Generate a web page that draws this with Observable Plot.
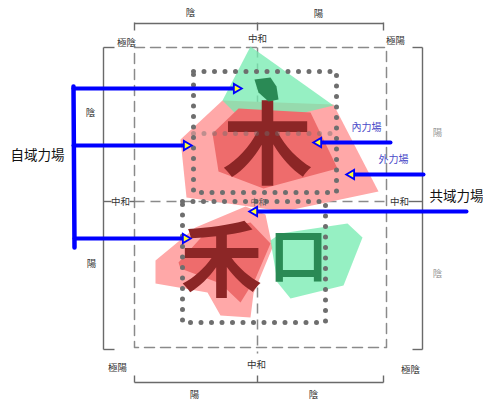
<!DOCTYPE html>
<html><head><meta charset="utf-8">
<script src="https://cdn.jsdelivr.net/npm/d3@7"></script>
<script src="https://cdn.jsdelivr.net/npm/@observablehq/plot@0.6"></script>
<style>body{margin:0;background:#fff}</style>
</head><body><div id="chart"></div>
<script>
// ---- diagram data (diagram units: x 0..483 left→right, y 0..401 top→bottom) ----
// solid bracket segments [x1,y1,x2,y2]
const bracketSegments = [
  [134,23,383,23],[134,22,134,30],[257,22,257,30],[383,22,383,30],
  [134,382,383,382],[134,375,134,382],[257,375,257,382],[383,375,383,382],
  [103,47,103,349],[103,47,114,47],[103,349,114,349],
  [422,47,422,349],[412,47,422,47],[412,349,422,349],
  [103,201,111,201],[129,201,134,201],[408,201,422,201]
];
// dashed guide box and centre lines
const dashedBox = [[134,47],[386,47],[386,347],[134,347]];
const dashedSegments = [[257,47,257,353],[134,201,386,201]];
// dotted field boxes
const dottedTop = [[193,71],[336,71],[336,192],[193,192]];
const dottedBottom = [[182,201],[325,201],[325,322],[182,322]];
const dottedInner = [[193,133,336,133]];
// force-field polygons
const topPinkOuter = [[180,139],[222,100],[333,104],[378,191],[283,211],[186,197]];
const topGreen = [[250,46],[333,105],[300,113],[235,113],[222,100]];
const topRedInner = [[212,133],[238,108],[310,112],[337,168],[263,188],[218,171]];
const topGreenStroke = [[254,79],[270,77],[276,86],[278,99],[268,101],[258,92]];
const bottomPinkOuter = [[155,283],[155,260],[195,227],[245,206],[265,214],[272,247],[253,293],[250,317],[220,315],[207,292]];
const bottomGreen = [[270,240],[280,233],[347,223],[362,237],[343,285],[290,298],[277,282]];
const bottomRedInner = [[178,262],[207,230],[250,222],[270,243],[255,278],[240,302],[220,283],[180,268]];
// characters
const glyphsRed = [{t:"木",x:267,y:148,s:90},{t:"禾",x:221,y:263,s:82}];
const glyphsGreen = [{t:"口",x:298,y:258,s:58}];
// labels
const axisLabels = [
  {t:"陰",x:190,y:12},{t:"陽",x:318,y:13},
  {t:"中和",x:257,y:38},{t:"極陰",x:126,y:42},{t:"極陽",x:395,y:40},
  {t:"陰",x:90,y:112},{t:"陽",x:91,y:263},
  {t:"中和",x:120,y:201},{t:"中和",x:399,y:201},
  {t:"中和",x:256,y:364},{t:"極陽",x:117,y:367},{t:"極陰",x:410,y:369},
  {t:"陽",x:194,y:394},{t:"陰",x:313,y:394}
];
const centreLabel = [{t:"中和",x:258,y:202}];
const rightLabels = [{t:"陽",x:437,y:132},{t:"陰",x:437,y:273}];
const bigLabels = [{t:"自域力場",x:37,y:155},{t:"共域力場",x:456,y:196}];
const fieldLabels = [{t:"內力場",x:366,y:127},{t:"外力場",x:393,y:159}];
// blue pointers
const bracketBlue = [[73,86,74,247]];
const pointers = [
  [73,88,241,88],[73,145,191,145],[74,238,190,238],
  [390,142,313,142],[423,174,346,174],[466,211,249,211]
];

// ---- drawing ----
const font = "'Noto Sans CJK TC', 'Noto Sans CJK SC', sans-serif";
const seg = a => ({x1:a[0],y1:a[1],x2:a[2],y2:a[3]});
const poly = (pts, fill, opacity=1) => Plot.line(pts, {x:d=>d[0], y:d=>d[1], curve:"linear-closed", fill, fillOpacity:opacity, stroke:"none"});
const txt = (data, o) => Plot.text(data, {x:"x", y:"y", text:"t", fontFamily:font, ...o});
const ptr = pointers.map(seg);
const right = ptr.filter(d => d.x2 > d.x1), left = ptr.filter(d => d.x2 < d.x1);

const chart = Plot.plot({
  width: 483, height: 401,
  margin: 0,
  x: {domain:[0,483], range:[0,483], axis:null},
  y: {domain:[0,401], range:[0,401], axis:null},
  style: {background:"#fff", fontFamily: font},
  marks: [
    Plot.line(dashedBox, {x:d=>d[0], y:d=>d[1], curve:"linear-closed", stroke:"#8a8a8a", strokeWidth:1.5, strokeDasharray:"10,6"}),
    Plot.link(dashedSegments.map(seg), {x1:"x1",y1:"y1",x2:"x2",y2:"y2", stroke:"#8a8a8a", strokeWidth:1.5, strokeDasharray:"10,6"}),
    Plot.link(bracketSegments.map(seg), {x1:"x1",y1:"y1",x2:"x2",y2:"y2", stroke:"#6a6a6a", strokeWidth:1.4}),
    poly(topPinkOuter, "rgb(255,168,168)"),
    poly(topGreen, "rgb(115,235,175)", 0.75),
    poly(topRedInner, "rgb(238,108,108)"),
    poly(bottomPinkOuter, "rgb(255,168,168)"),
    poly(bottomGreen, "rgb(115,235,175)", 0.75),
    poly(bottomRedInner, "rgb(238,108,108)"),
    Plot.text(glyphsRed, {x:"x", y:"y", text:"t", fontSize:d=>d.s, fontWeight:"bold", fill:"#8c2626", fontFamily:font}),
    Plot.text(glyphsGreen, {x:"x", y:"y", text:"t", fontSize:d=>d.s, fontWeight:"bold", fill:"#2a8a55", fontFamily:font}),
    poly(topGreenStroke, "#2a8a55"),
    Plot.link(dottedInner.map(seg), {x1:"x1",y1:"y1",x2:"x2",y2:"y2", stroke:"#6e6e6e", strokeOpacity:0.45, strokeWidth:5, strokeDasharray:"0,10.5", strokeLinecap:"round"}),
    Plot.line(dottedTop, {x:d=>d[0], y:d=>d[1], curve:"linear-closed", stroke:"#6e6e6e", strokeWidth:5, strokeDasharray:"0,10.5", strokeLinecap:"round"}),
    Plot.line(dottedBottom, {x:d=>d[0], y:d=>d[1], curve:"linear-closed", stroke:"#6e6e6e", strokeWidth:5, strokeDasharray:"0,10.5", strokeLinecap:"round"}),
    txt(axisLabels, {fontSize:9.5, fill:"#333"}),
    txt(centreLabel, {fontSize:8, fill:"#555"}),
    txt(rightLabels, {fontSize:9.5, fill:"#999"}),
    txt(bigLabels, {fontSize:13.5, fill:"#111"}),
    txt(fieldLabels, {fontSize:10, fill:"#4a4ac8"}),
    Plot.link(bracketBlue.map(seg), {x1:"x1",y1:"y1",x2:"x2",y2:"y2", stroke:"#0000ff", strokeWidth:4.5, strokeLinecap:"round"}),
    Plot.arrow(ptr, {x1:"x1",y1:"y1",x2:"x2",y2:"y2", stroke:"#0000ff", strokeWidth:4, headLength:0, insetEnd:6}),
    Plot.dot(right, {x:"x2", y:"y2", symbol:"triangle", rotate:90, r:3.4, dx:-5, fill:"#ffff33", stroke:"#0000ff", strokeWidth:1.8}),
    Plot.dot(left, {x:"x2", y:"y2", symbol:"triangle", rotate:-90, r:3.4, dx:5, fill:"#ffff33", stroke:"#0000ff", strokeWidth:1.8})
  ]
});
document.getElementById("chart").appendChild(chart);
</script>
</body></html>
